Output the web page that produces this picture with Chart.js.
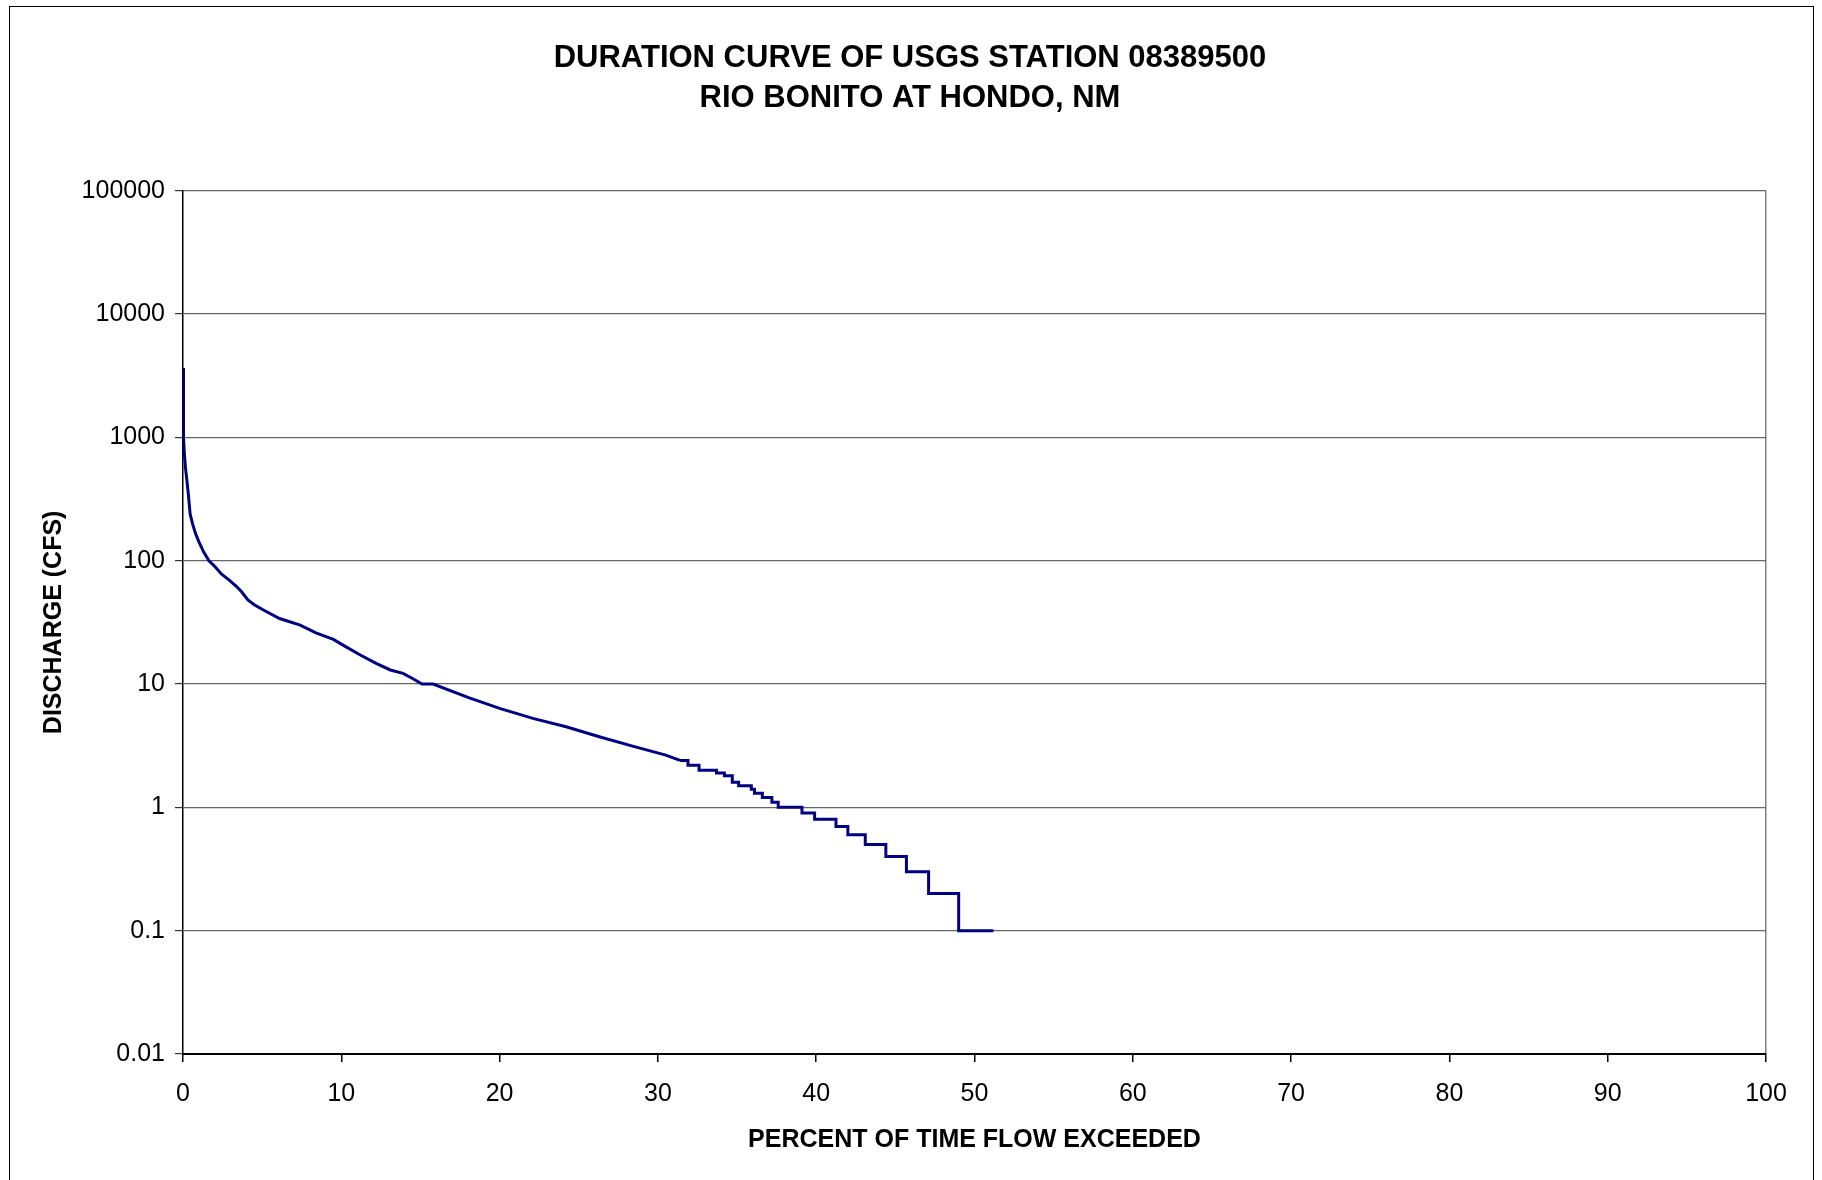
<!DOCTYPE html>
<html>
<head>
<meta charset="utf-8">
<script src="https://cdn.jsdelivr.net/npm/chart.js@4.4.0/dist/chart.umd.min.js"></script>
<style>
  html, body { margin: 0; padding: 0; background: #fff; overflow: hidden; }
  #wrap { position: relative; width: 1822px; height: 1180px; }
  #frame { position: absolute; left: 9px; top: 6px; width: 1803px; height: 1200px; border: 1px solid #000; pointer-events: none; }
</style>
</head>
<body>
<div id="wrap">
  <canvas id="durationChart" width="1822" height="1180"></canvas>
  <div id="frame"></div>
</div>
<script>
// Flow duration data (percent of time exceeded vs discharge, cfs)
const curvePct = [0, 0.02, 0.04, 0.09, 0.16, 0.23, 0.34, 0.45, 0.6, 0.8, 1.0, 1.3, 1.64, 2.0, 2.42, 2.9, 3.37, 3.7, 4.1, 4.5, 5.05, 6.1, 7.4, 8.4, 9.5, 10.3, 11.2, 12.2, 13.1, 13.9, 14.5, 15.1, 15.8, 18.0, 20.0, 22.1, 24.2, 26.3, 28.4, 30.5, 31.4];
const curveCfs = [3650, 1800, 1000, 725, 560, 468, 343, 240, 200, 165, 143, 118, 100, 90, 78, 70, 62, 56, 48, 44, 40, 34, 30, 26, 23, 20, 17.2, 14.7, 13, 12.2, 11.1, 10, 10, 7.8, 6.35, 5.27, 4.5, 3.74, 3.14, 2.65, 2.4];

// low-flow part, drawn as steps (each level holds until the next percent)
const stepPct = [31.4, 31.9, 32.6, 33.7, 34.2, 34.7, 35.1, 35.9, 36.1, 36.6, 37.2, 37.6, 39.1, 39.9, 41.25, 42.0, 43.1, 44.4, 45.7, 47.1, 49.0, 51.2];
const stepCfs = [2.4, 2.2, 2.0, 1.9, 1.8, 1.6, 1.5, 1.4, 1.3, 1.2, 1.1, 1.0, 0.9, 0.8, 0.7, 0.6, 0.5, 0.4, 0.3, 0.2, 0.1, 0.1];

const yTicks = [0.01, 0.1, 1, 10, 100, 1000, 10000, 100000];
const yTickLabels = ['0.01', '0.1', '1', '10', '100', '1000', '10000', '100000'];

const titleLines = ['DURATION CURVE OF USGS STATION 08389500', 'RIO BONITO AT HONDO, NM'];

const font = 'Liberation Sans, Arial, sans-serif';
const lineColor = '#000080';

function toPoints(xs, ys) {
    return xs.map((x, i) => ({ x: x, y: ys[i] }));
}

const ctx = document.getElementById('durationChart').getContext('2d');

new Chart(ctx, {
    type: 'line',
    data: {
        datasets: [{
            label: 'Duration',
            data: toPoints(curvePct, curveCfs),
            borderColor: lineColor,
            borderWidth: 3,
            pointRadius: 0,
            tension: 0,
            fill: false
        }, {
            label: 'Duration (steps)',
            data: toPoints(stepPct, stepCfs),
            borderColor: lineColor,
            borderWidth: 3,
            pointRadius: 0,
            stepped: 'before',
            fill: false
        }]
    },
    options: {
        responsive: false,
        animation: false,
        layout: {
            padding: { left: 35, right: 37, top: 0, bottom: 21 }
        },
        scales: {
            x: {
                type: 'linear',
                min: 0,
                max: 100,
                ticks: {
                    stepSize: 10,
                    color: '#000',
                    padding: 17,
                    font: { family: font, size: 25 }
                },
                grid: {
                    color: c => (c.tick && c.tick.value === 100) ? '#808080' : 'rgba(0,0,0,0)',
                    tickColor: '#000',
                    tickLength: 8,
                    lineWidth: 1.5
                },
                border: { color: '#000', width: 2 },
                title: {
                    display: true,
                    text: 'PERCENT OF TIME FLOW EXCEEDED',
                    color: '#000',
                    font: { family: font, size: 25, weight: 'bold' }
                },
                afterFit: s => { s.height = 105; }
            },
            y: {
                type: 'logarithmic',
                min: 0.01,
                max: 100000,
                afterBuildTicks: s => { s.ticks = yTicks.map(v => ({ value: v })); },
                ticks: {
                    color: '#000',
                    padding: 10,
                    font: { family: font, size: 25 },
                    callback: (v, i) => yTickLabels[i]
                },
                grid: {
                    color: '#666666',
                    tickColor: '#333',
                    tickLength: 8,
                    lineWidth: 1.2
                },
                border: { color: '#000', width: 1.5 },
                title: {
                    display: true,
                    text: 'DISCHARGE (CFS)',
                    color: '#000',
                    font: { family: font, size: 25, weight: 'bold' }
                },
                afterFit: s => { s.width = 148; }
            },
            // empty spacer on the right so the title centres like the original
            yRight: {
                type: 'linear',
                position: 'right',
                display: true,
                grid: { display: false },
                border: { display: false },
                ticks: { display: false },
                afterFit: s => { s.width = 19; }
            }
        },
        plugins: {
            legend: { display: false },
            tooltip: { enabled: false },
            title: {
                display: true,
                text: titleLines,
                color: '#000',
                font: { family: font, size: 31, weight: 'bold', lineHeight: 1.27 },
                padding: { top: 39, bottom: 73 }
            }
        }
    }
});
</script>
</body>
</html>
